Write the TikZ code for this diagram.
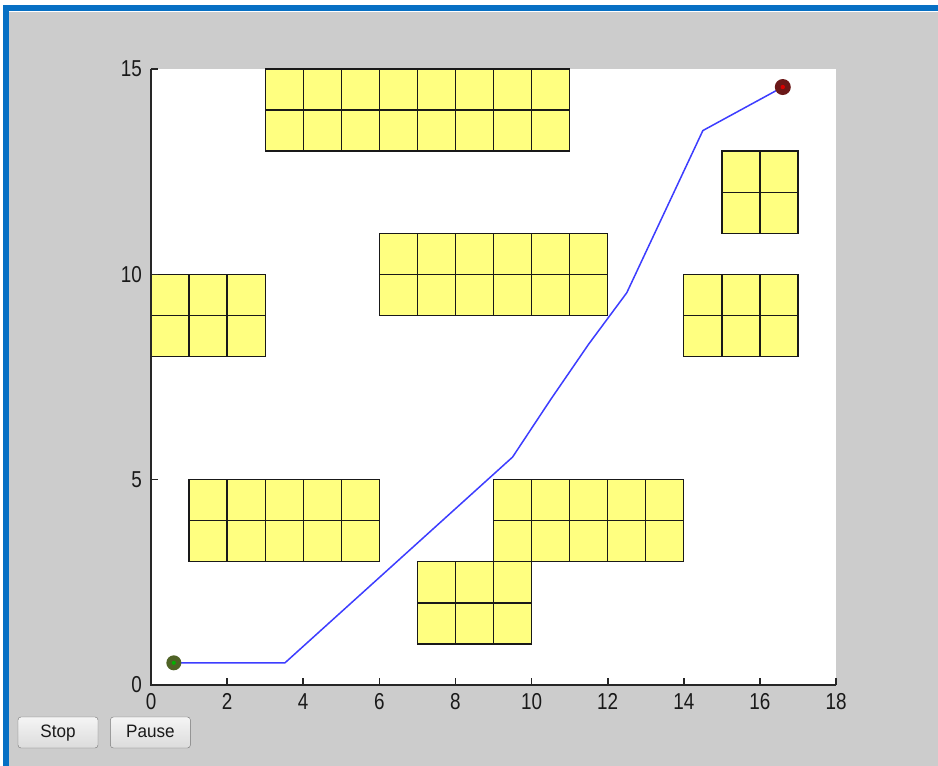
\documentclass[tikz,border=0pt]{standalone}
\usepackage{fontspec}
\newfontfamily\ticksfont[FakeStretch=0.82]{Liberation Sans}
\newfontfamily\buttonfont[FakeStretch=0.95]{Liberation Sans}
\usetikzlibrary{positioning}

\definecolor{figgray}{HTML}{CCCCCC}
\definecolor{frameblue}{HTML}{0770C4}
\definecolor{obstyellow}{HTML}{FFFF80}
\definecolor{routeblue}{HTML}{3D3DFF}
\definecolor{startgreen}{HTML}{4F6326}
\definecolor{goalred}{HTML}{6B1818}

\begin{document}
\begin{tikzpicture}[x=1pt, y=-1pt,
    every node/.style={inner sep=0pt},
    ticklabel/.style={font=\ticksfont\fontsize{23}{23}\selectfont, text=black!90},
    axisline/.style={draw=black!85, line width=1.6pt},
    cell/.style={fill=obstyellow, draw=black!90, line width=1.3pt},
    route/.style={draw=routeblue, line width=1.5pt, line join=round},
    button/.style={draw=black!55, rounded corners=3pt, top color=white!96!black, bottom color=black!14,
      minimum width=80pt, minimum height=31pt, text height=12.5pt, text depth=3.5pt,
      text=black!90, font=\buttonfont\fontsize{18}{18}\selectfont}]

  \useasboundingbox (0,0) rectangle (938,766);
  % window frame
  \fill[white] (0,0) rectangle (938,766);
  \fill[frameblue] (3,5) rectangle (938,11);
  \fill[frameblue] (3,5) rectangle (9,766);
  \fill[figgray] (9,12) rectangle (938,766);

  % axes in data units
  \begin{scope}[shift={(151,685)}, x=38.06pt, y=41.07pt]
    \fill[white] (0,0) rectangle (18,15);
    % obstacles: corner x/y, columns, rows
    \foreach \ox/\oy/\w/\h in {3/13/8/2, 15/11/2/2, 6/9/6/2, 0/8/3/2, 14/8/3/2, 1/3/5/2, 9/3/5/2, 7/1/3/2}
      \foreach \i in {1,...,\w}
        \foreach \j in {1,...,\h}
          \draw[cell] (\ox+\i-1,\oy+\j-1) rectangle ++(1,1);

    \draw[axisline] (0,15) -- (0,0) -- (18,0);
    \foreach \t in {0,2,...,18} {
      \draw[axisline] (\t,0) -- ++(0,0.17);
      \node[ticklabel, anchor=north, yshift=-8pt] (xl\t) at (\t,0) {\t};
    }
    \foreach \t in {0,5,10,15} {
      \draw[axisline] (0,\t) -- ++(0.18,0);
      \node[ticklabel, anchor=east, xshift=-9pt] (yl\t) at (0,\t) {\t};
    }

    % route
    \coordinate (start) at (0.6,0.54);
    \coordinate (w1) at (3.52,0.54);
    \coordinate (w2) at (9.5,5.55);
    \coordinate (w3) at (10.5,6.95);
    \coordinate (w4) at (11.5,8.3);
    \coordinate (w5) at (12.5,9.55);
    \coordinate (w6) at (14.5,13.5);
    \coordinate (goal) at (16.6,14.56);
    \draw[route] (start) -- (w1) -- (w2) -- (w3) -- (w4) -- (w5) -- (w6) -- (goal);

    \node[circle, fill=startgreen, minimum size=15pt] (startdot) at (start) {};
    \fill[green!70!black] (start) circle[radius=2pt];
    \node[circle, fill=goalred, minimum size=16pt] (goaldot) at (goal) {};
    \fill[red!85!black] (goal) circle[radius=2.2pt];
  \end{scope}

  % buttons
  \node[button] (stop) at (58,732.5) {Stop};
  \node[button, right=12pt of stop] (pause) {Pause};
\end{tikzpicture}
\end{document}
